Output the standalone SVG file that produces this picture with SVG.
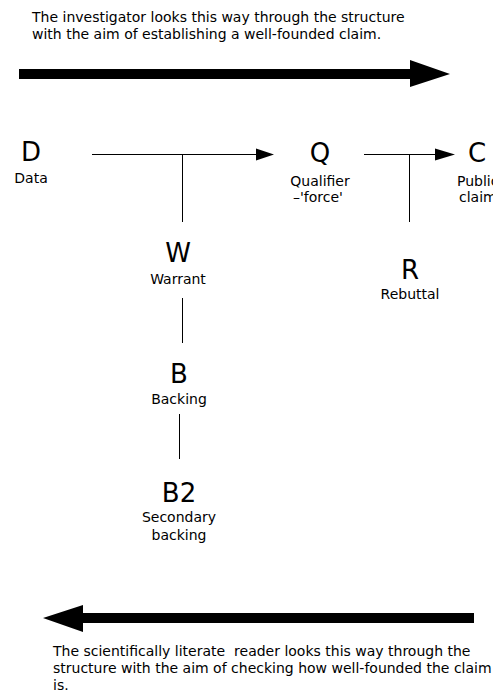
<svg xmlns="http://www.w3.org/2000/svg" width="493" height="698" viewBox="0 0 493 698">
  <style>
    text { font-family: "DejaVu Sans", "Liberation Sans", sans-serif; fill: #000; }
    .note { font-size: 14px; white-space: pre; }
    .big { font-size: 26px; text-anchor: middle; }
    .lbl { font-size: 14px; text-anchor: middle; }
    .link { stroke: #000; stroke-width: 1; fill: none; }
    .bar { fill: #000; }
  </style>

  <!-- investigator direction -->
  <g id="top-note">
    <text class="note" x="32" y="22">The investigator looks this way through the structure</text>
    <text class="note" x="32" y="39">with the aim of establishing a well-founded claim.</text>
  </g>
  <g id="top-arrow">
    <polygon class="bar" points="19,69 410,69 410,60 450,74 410,87 410,79 19,79"/>
  </g>

  <!-- argument nodes -->
  <g id="node-D">
    <text class="big" x="31" y="161">D</text>
    <text class="lbl" x="31" y="183">Data</text>
  </g>
  <g id="node-Q">
    <text class="big" x="320" y="162">Q</text>
    <text class="lbl" x="320" y="186">Qualifier</text>
    <text class="lbl" x="318" y="202">–'force'</text>
  </g>
  <g id="node-C">
    <text class="big" x="477" y="162">C</text>
    <text class="note" x="457" y="186">Public</text>
    <text class="note" x="459" y="202">claim</text>
  </g>
  <g id="node-W">
    <text class="big" x="178" y="262">W</text>
    <text class="lbl" x="178" y="284">Warrant</text>
  </g>
  <g id="node-R">
    <text class="big" x="410" y="279">R</text>
    <text class="lbl" x="410" y="299">Rebuttal</text>
  </g>
  <g id="node-B">
    <text class="big" x="179" y="383">B</text>
    <text class="lbl" x="179" y="404">Backing</text>
  </g>
  <g id="node-B2">
    <text class="big" x="179" y="502">B2</text>
    <text class="lbl" x="179" y="522">Secondary</text>
    <text class="lbl" x="179" y="540">backing</text>
  </g>

  <!-- connectors -->
  <g id="connectors">
    <line class="link" x1="92" y1="154.5" x2="258" y2="154.5"/>
    <polygon class="bar" points="256,148.5 274,154.5 256,160.5"/>
    <line class="link" x1="182.5" y1="154.5" x2="182.5" y2="222"/>
    <line class="link" x1="364" y1="154.5" x2="437" y2="154.5"/>
    <polygon class="bar" points="435,148.5 455,154.5 435,160.5"/>
    <line class="link" x1="409.5" y1="154.5" x2="409.5" y2="222"/>
    <line class="link" x1="182.5" y1="298" x2="182.5" y2="343"/>
    <line class="link" x1="179.5" y1="414" x2="179.5" y2="459"/>
  </g>

  <!-- reader direction -->
  <g id="bottom-arrow">
    <polygon class="bar" points="474,613 83,613 83,605 43,618 83,632 83,623 474,623"/>
  </g>
  <g id="bottom-note">
    <text class="note" x="53" y="656">The scientifically literate  reader looks this way through the</text>
    <text class="note" x="53" y="673">structure with the aim of checking how well-founded the claim</text>
    <text class="note" x="53" y="690">is.</text>
  </g>
</svg>
